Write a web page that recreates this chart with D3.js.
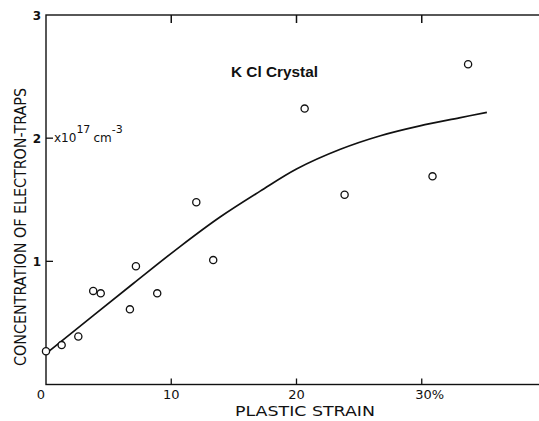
<!DOCTYPE html>
<html>
<head>
<meta charset="utf-8">
<script src="https://cdn.jsdelivr.net/npm/d3@7"></script>
<style>
  body { margin: 0; background: #fff; }
  svg { display: block; }
  text { font-family: "DejaVu Sans", sans-serif; fill: #111; }
</style>
</head>
<body>
<svg id="chart"></svg>
<script>
const width = 539,
  height = 421;

// measured points: plastic strain (%) and trap concentration (x10^17 cm^-3)
const strain = [0, 1.25, 2.58, 3.77, 4.37, 6.7, 7.18, 8.88, 12.0, 13.35, 20.65, 23.84, 30.86, 33.7];
const traps = [0.27, 0.32, 0.39, 0.76, 0.74, 0.61, 0.96, 0.74, 1.48, 1.01, 2.24, 1.54, 1.69, 2.60];

// fitted curve
const curveX = [0, 6.97, 10.7, 13.9, 17.1, 20.0, 23.5, 26.7, 29.85, 33.0, 35.2];
const curveY = [0.25, 0.82, 1.12, 1.36, 1.57, 1.75, 1.91, 2.02, 2.10, 2.165, 2.21];

const xTicks = [0, 10, 20, 30];
const xTickLabels = ['0', '10', '20', '30%'];
const yTicks = [1, 2, 3];

const x = d3.scaleLinear().domain([0, 40]).range([46, 547]);
const y = d3.scaleLinear().domain([0, 3]).range([384.5, 15]);

const svg = d3.select('#chart')
  .attr('width', width)
  .attr('height', height);

// frame
svg.append('rect')
  .attr('x', x(0))
  .attr('y', y(3))
  .attr('width', x(40) - x(0))
  .attr('height', y(0) - y(3))
  .attr('fill', 'none')
  .attr('stroke', '#111')
  .attr('stroke-width', 1.4);

// bottom ticks (inward) and top ticks (inward)
svg.selectAll('line.xtick-b')
  .data(xTicks.slice(1))
  .enter().append('line')
  .attr('x1', d => x(d)).attr('x2', d => x(d))
  .attr('y1', y(0)).attr('y2', y(0) - 6)
  .attr('stroke', '#111').attr('stroke-width', 1.3);

svg.selectAll('line.xtick-t')
  .data(xTicks.slice(1))
  .enter().append('line')
  .attr('x1', d => x(d)).attr('x2', d => x(d))
  .attr('y1', y(3)).attr('y2', y(3) + 8)
  .attr('stroke', '#111').attr('stroke-width', 1.5);

svg.selectAll('text.xlab')
  .data(xTicks)
  .enter().append('text')
  .attr('x', (d, i) => x(d) + (i === 3 ? 8 : 0) - (i === 0 ? 5 : 0))
  .attr('y', 399)
  .attr('text-anchor', 'middle')
  .style('font-size', '13px')
  .text((d, i) => xTickLabels[i]);

// y ticks
svg.selectAll('line.ytick')
  .data(yTicks.slice(0, 2))
  .enter().append('line')
  .attr('x1', x(0)).attr('x2', x(0) + 7)
  .attr('y1', d => y(d)).attr('y2', d => y(d))
  .attr('stroke', '#111').attr('stroke-width', 1.3);

svg.selectAll('text.ylab')
  .data(yTicks)
  .enter().append('text')
  .attr('x', 37)
  .attr('y', d => y(d) + 5)
  .attr('text-anchor', 'middle')
  .style('font-size', '12px')
  .style('font-weight', 'bold')
  .text(d => d);

// unit label next to the 2 tick
const unit = svg.append('text')
  .attr('x', 54)
  .attr('y', y(2) + 4)
  .style('font-size', '12px');
unit.append('tspan').text('x10');
unit.append('tspan').attr('dy', -9).style('font-size', '11px').text('17');
unit.append('tspan').attr('dy', 9).attr('dx', 3).text('cm');
unit.append('tspan').attr('dy', -9).style('font-size', '11px').text('-3');

// axis titles
svg.append('text')
  .attr('x', 305)
  .attr('y', 416)
  .attr('text-anchor', 'middle')
  .attr('textLength', 140)
  .attr('lengthAdjust', 'spacingAndGlyphs')
  .style('font-size', '14px')
  .text('PLASTIC STRAIN');

svg.append('text')
  .attr('transform', 'translate(26,227) rotate(-90)')
  .attr('text-anchor', 'middle')
  .attr('textLength', 278)
  .attr('lengthAdjust', 'spacingAndGlyphs')
  .style('font-size', '16px')
  .text('CONCENTRATION OF ELECTRON-TRAPS');

svg.append('text')
  .attr('x', 231)
  .attr('y', 77)
  .attr('textLength', 87)
  .attr('lengthAdjust', 'spacingAndGlyphs')
  .style('font-size', '15px')
  .style('font-weight', 'bold')
  .style('font-family', 'Liberation Sans, Arial, sans-serif')
  .text('K Cl Crystal');

// fitted curve
const line = d3.line()
  .x((d, i) => x(curveX[i]))
  .y(d => y(d))
  .curve(d3.curveCatmullRom.alpha(0.5));

svg.append('path')
  .datum(curveY)
  .attr('d', line)
  .attr('fill', 'none')
  .attr('stroke', '#111')
  .attr('stroke-width', 1.7);

// data points
svg.selectAll('circle.pt')
  .data(strain)
  .enter().append('circle')
  .attr('cx', d => x(d))
  .attr('cy', (d, i) => y(traps[i]))
  .attr('r', 3.6)
  .attr('fill', '#fff')
  .attr('stroke', '#111')
  .attr('stroke-width', 1.3);
</script>
</body>
</html>
